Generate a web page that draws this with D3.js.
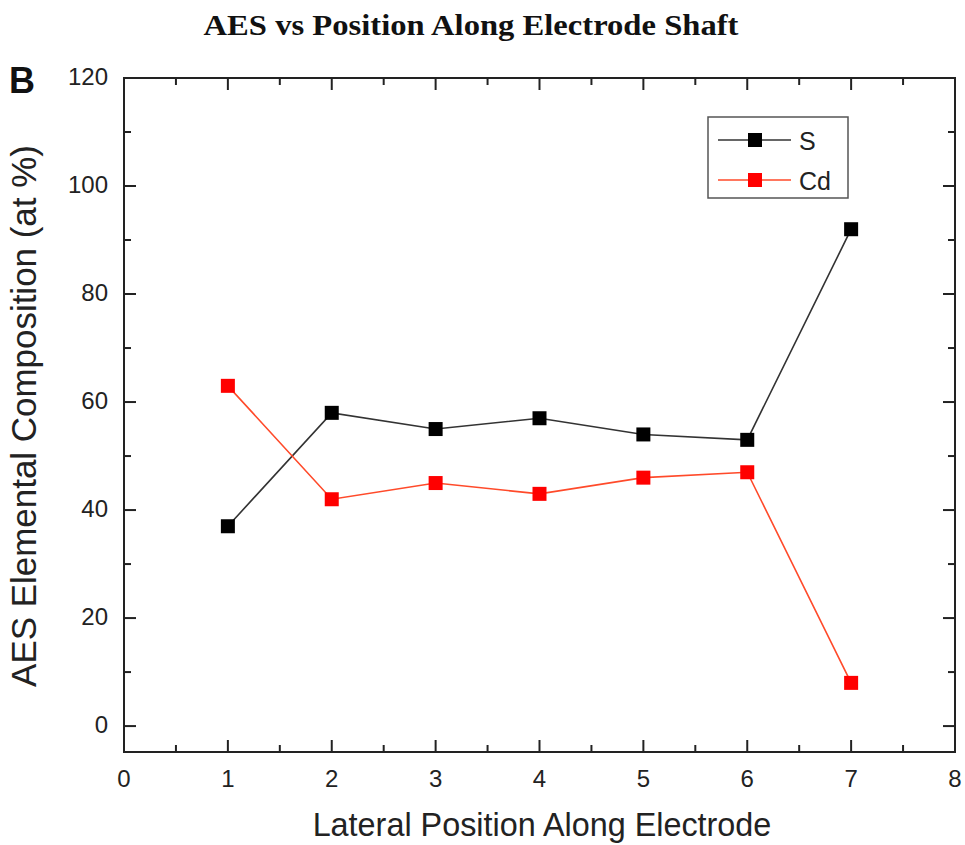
<!DOCTYPE html>
<html>
<head>
<meta charset="utf-8">
<script src="https://cdn.jsdelivr.net/npm/d3@7"></script>
<style>
  html, body { margin: 0; padding: 0; background: #fff; }
  svg { display: block; }
  text { font-family: "Liberation Sans", Arial, sans-serif; fill: #222; }
</style>
</head>
<body>
<svg id="chart" width="965" height="845"></svg>
<script>
// Lateral positions sampled along the electrode shaft
const positions = [1, 2, 3, 4, 5, 6, 7];
// AES elemental composition (at %) at each position
const sulfur = [37, 58, 55, 57, 54, 53, 92];
const cadmium = [63, 42, 45, 43, 46, 47, 8];
const seriesNames = ["S", "Cd"];
const xTicks = [0, 1, 2, 3, 4, 5, 6, 7, 8];
const yTicks = [0, 20, 40, 60, 80, 100, 120];

const series = [
  { name: seriesNames[0], values: sulfur, line: "#333", marker: "#000" },
  { name: seriesNames[1], values: cadmium, line: "#ff4a2a", marker: "#f00" }
];

const svg = d3.select("#chart");
const plotL = 124, plotR = 955, plotT = 78, plotB = 752;

const x = d3.scaleLinear().domain([0, 8]).range([plotL, plotR]);
const y = d3.scaleLinear().domain([-4.8, 120]).range([plotB, plotT]);

// Fit a text element to a target width by scaling its font size
function fitWidth(sel, target) {
  const w = sel.node().getComputedTextLength();
  const fs = parseFloat(sel.attr("font-size"));
  sel.attr("font-size", fs * target / w);
}

// Frame
svg.append("rect")
  .attr("x", plotL).attr("y", plotT)
  .attr("width", plotR - plotL).attr("height", plotB - plotT)
  .attr("fill", "none").attr("stroke", "#222").attr("stroke-width", 2);

const minorX = d3.range(0.5, 8, 1);
const minorY = d3.range(10, 120, 20);
const major = 12, minor = 7;

// Inward ticks on all four sides
const tickG = svg.append("g").attr("stroke", "#222").attr("stroke-width", 2);
xTicks.slice(1, -1).forEach(v => {
  tickG.append("line").attr("x1", x(v)).attr("x2", x(v)).attr("y1", plotB).attr("y2", plotB - major);
  tickG.append("line").attr("x1", x(v)).attr("x2", x(v)).attr("y1", plotT).attr("y2", plotT + major);
});
minorX.forEach(v => {
  tickG.append("line").attr("x1", x(v)).attr("x2", x(v)).attr("y1", plotB).attr("y2", plotB - minor);
  tickG.append("line").attr("x1", x(v)).attr("x2", x(v)).attr("y1", plotT).attr("y2", plotT + minor);
});
yTicks.slice(0, -1).forEach(v => {
  tickG.append("line").attr("x1", plotL).attr("x2", plotL + major).attr("y1", y(v)).attr("y2", y(v));
  tickG.append("line").attr("x1", plotR).attr("x2", plotR - major).attr("y1", y(v)).attr("y2", y(v));
});
minorY.forEach(v => {
  tickG.append("line").attr("x1", plotL).attr("x2", plotL + minor).attr("y1", y(v)).attr("y2", y(v));
  tickG.append("line").attr("x1", plotR).attr("x2", plotR - minor).attr("y1", y(v)).attr("y2", y(v));
});

// Tick labels
svg.append("g").selectAll("text").data(xTicks).join("text")
  .attr("x", d => x(d)).attr("y", 787)
  .attr("text-anchor", "middle").attr("font-size", 24)
  .text(d => d);
svg.append("g").selectAll("text").data(yTicks).join("text")
  .attr("x", 108).attr("y", d => y(d) + 7)
  .attr("text-anchor", "end").attr("font-size", 24)
  .text(d => d);

// Axis titles
const xt = svg.append("text")
  .attr("x", 542).attr("y", 836)
  .attr("text-anchor", "middle").attr("font-size", 26)
  .text("Lateral Position Along Electrode");
fitWidth(xt, 459);

const yt = svg.append("text")
  .attr("transform", "translate(36,416) rotate(-90)")
  .attr("text-anchor", "middle").attr("font-size", 28)
  .text("AES Elemental Composition (at %)");
fitWidth(yt, 542);

// Title: tall bold serif, squeezed horizontally to its span
const title = svg.append("text")
  .attr("x", 0).attr("y", 0)
  .attr("text-anchor", "middle").attr("font-size", 29)
  .attr("font-weight", "bold")
  .style("font-family", "'Liberation Serif', 'Times New Roman', serif")
  .style("fill", "#111")
  .text("AES vs Position Along Electrode Shaft");
const tw = title.node().getComputedTextLength();
title.attr("transform", `translate(471,35) scale(${535 / tw},1)`);

svg.append("text")
  .attr("x", 9).attr("y", 93)
  .attr("font-size", 36).attr("font-weight", "bold")
  .style("fill", "#111")
  .text("B");

// Series lines and square markers
const line = d3.line().x((d, i) => x(positions[i])).y(d => y(d));
const ms = 14;
series.forEach(s => {
  svg.append("path")
    .attr("d", line(s.values))
    .attr("fill", "none").attr("stroke", s.line).attr("stroke-width", 1.6);
  svg.append("g").selectAll("rect").data(s.values).join("rect")
    .attr("x", (d, i) => x(positions[i]) - ms / 2)
    .attr("y", d => y(d) - ms / 2)
    .attr("width", ms).attr("height", ms)
    .attr("fill", s.marker);
});

// Legend
const lg = svg.append("g");
lg.append("rect")
  .attr("x", 708).attr("y", 117).attr("width", 140).attr("height", 81)
  .attr("fill", "#fff").attr("stroke", "#555").attr("stroke-width", 1.5);
series.forEach((s, i) => {
  const cy = 140 + i * 40;
  lg.append("line").attr("x1", 718).attr("x2", 791).attr("y1", cy).attr("y2", cy)
    .attr("stroke", s.line).attr("stroke-width", 1.6);
  lg.append("rect").attr("x", 755 - ms / 2).attr("y", cy - ms / 2)
    .attr("width", ms).attr("height", ms).attr("fill", s.marker);
  lg.append("text").attr("x", 799).attr("y", cy + 10)
    .attr("font-size", 25).text(s.name);
});
</script>
</body>
</html>
